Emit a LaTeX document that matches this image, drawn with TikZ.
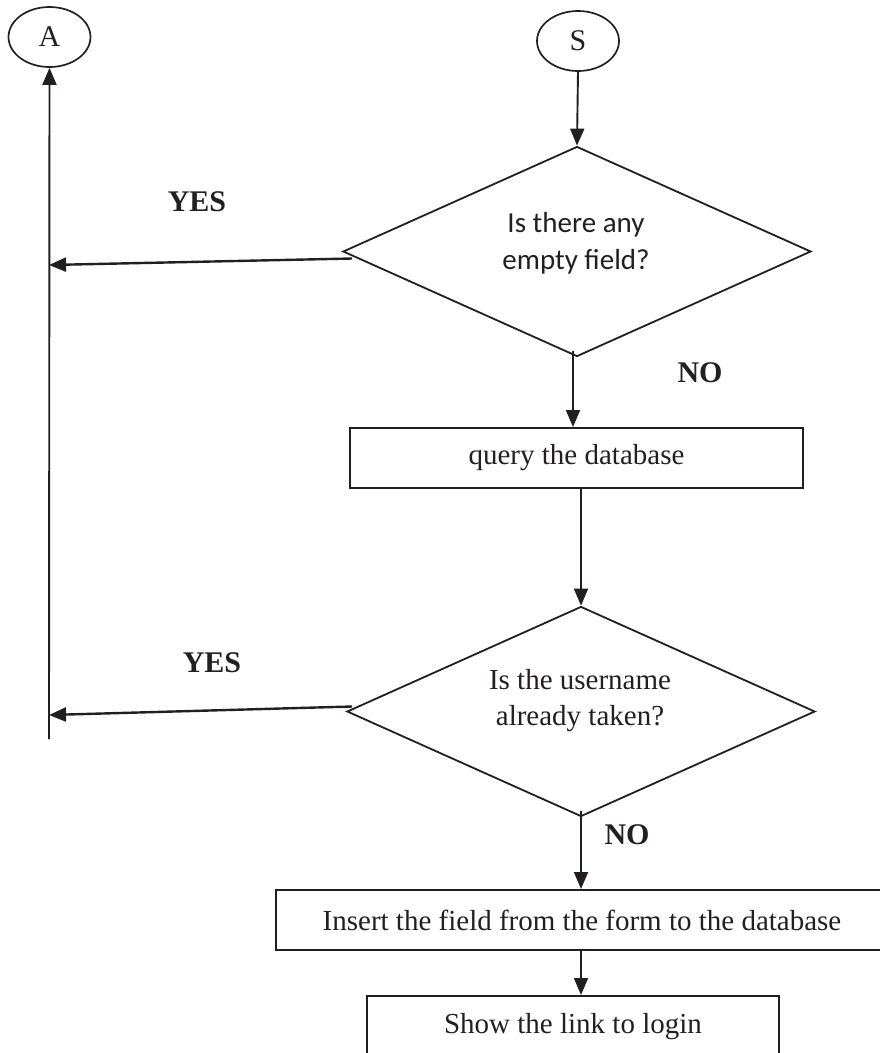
\documentclass[tikz,border=0pt]{standalone}
\usepackage{fontspec}
\setmainfont{Liberation Serif}
\newfontfamily\carlito{Carlito}
\usetikzlibrary{arrows.meta,shapes.geometric}
\definecolor{ink}{RGB}{35,31,32}
\begin{document}
\begin{tikzpicture}[x=1pt,y=-1pt,
  every node/.style={text=ink},
  ln/.style={draw=ink,line width=1.9pt},
  arr/.style={ln,-{Triangle[length=17pt,width=14pt]}},
  harr/.style={arr,line width=2.4pt},
  term/.style={ellipse,draw=ink,line width=1.7pt,minimum width=82pt,minimum height=60pt,inner sep=0pt,font=\fontsize{30}{32}\selectfont},
  dec/.style={diamond,draw=ink,line width=1.8pt,minimum width=468pt,minimum height=210pt,inner sep=0pt},
  dectext/.style={align=center,inner sep=0pt},
  proc/.style={rectangle,draw=ink,line width=2pt,minimum height=60pt,inner sep=0pt,font=\fontsize{29}{34}\selectfont},
  lbl/.style={font=\bfseries\fontsize{30}{34}\selectfont}]
\useasboundingbox (0,0) rectangle (880,1053);
\clip (0,0) rectangle (880,1053);

% terminals
\node[term] (A) at (49.5,37) {\raisebox{-2pt}{A}};
\node[term] (S) at (578,41) {\raisebox{-2pt}{S}};

% decisions
\node[dec] (d1) at (577,251.5) {};
\node[dectext,font=\carlito\fontsize{29}{37}\selectfont] (d1t) at (576,243) {Is there any\\empty field?};
\node[dec] (d2) at (581,711.5) {};
\node[dectext,font=\fontsize{29}{36}\selectfont] (d2t) at (580,701) {Is the username\\already taken?};

% processes
\node[proc,minimum width=453pt] (q) at (576.5,458) {query the database};
\node[proc,minimum width=612pt] (ins) at (582,920) {Insert the field from the form to the database};
\node[proc,minimum width=412pt,minimum height=62pt] (show) at (573,1027) {Show the link to login};

% labels
\node[lbl] (yes1) at (197,202) {YES};
\node[lbl] (no1) at (700,373) {NO};
\node[lbl] (yes2) at (212,663) {YES};
\node[lbl] (no2) at (627,835) {NO};

% left return line
\coordinate (lb) at (49,739);
\coordinate (y1) at (49,265);
\coordinate (y2) at (49,715);
\draw[arr] (lb) -- (A.south);
\draw[harr] ([xshift=10pt,yshift=-7pt]d1.west) -- (y1);
\draw[harr] ([xshift=6pt,yshift=5pt]d2.west) -- (y2);

% main flow
\draw[arr] (S.south) -- (d1.north);
\draw[arr] ([xshift=-4pt,yshift=6pt]d1.south) -- ([xshift=-4pt]d1.south |- q.north);
\draw[arr] (d2.north |- q.south) -- (d2.north);
\draw[arr] ([yshift=6pt]d2.south) -- (d2.south |- ins.north);
\draw[arr] (d2.south |- ins.south) -- (d2.south |- show.north);
\end{tikzpicture}
\end{document}
